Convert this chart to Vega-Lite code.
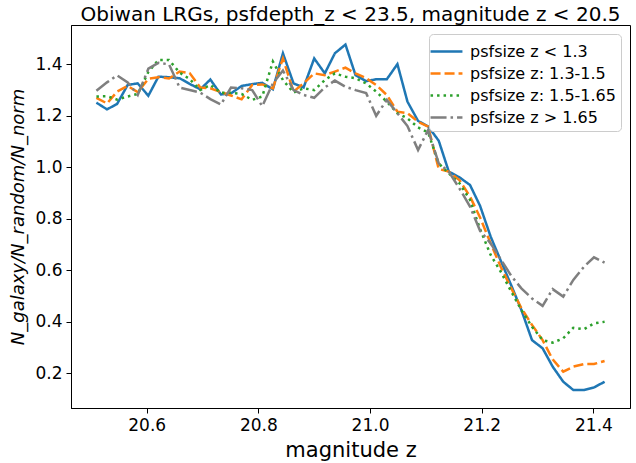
{
  "$schema": "https://vega.github.io/schema/vega-lite/v6.json",
  "width": 559,
  "height": 383,
  "autosize": {"type": "none"},
  "padding": {"left": 71, "top": 25, "right": 6, "bottom": 55},
  "background": "white",
  "config": {
    "font": "DejaVu Sans",
    "view": {"stroke": "black", "strokeWidth": 1},
    "axis": {"grid": false, "domainColor": "black", "tickColor": "black", "labelColor": "black", "titleColor": "black", "labelFontSize": 17, "titleFontSize": 21, "titleFontWeight": "normal", "tickSize": 5, "labelPadding": 4, "domainWidth": 1}
  },
  "title": {"text": "Obiwan LRGs, psfdepth_z < 23.5, magnitude z < 20.5", "fontSize": 20, "fontWeight": "normal", "anchor": "middle", "offset": 0, "color": "black"},
  "datasets": {
    "d": [
      {"m":20.510,"s":"psfsize z < 1.3","v":1.251},{"m":20.529,"s":"psfsize z < 1.3","v":1.225},{"m":20.547,"s":"psfsize z < 1.3","v":1.246},{"m":20.566,"s":"psfsize z < 1.3","v":1.320},{"m":20.584,"s":"psfsize z < 1.3","v":1.326},
      {"m":20.603,"s":"psfsize z < 1.3","v":1.278},{"m":20.621,"s":"psfsize z < 1.3","v":1.352},{"m":20.640,"s":"psfsize z < 1.3","v":1.350},{"m":20.659,"s":"psfsize z < 1.3","v":1.346},{"m":20.677,"s":"psfsize z < 1.3","v":1.324},
      {"m":20.696,"s":"psfsize z < 1.3","v":1.303},{"m":20.714,"s":"psfsize z < 1.3","v":1.341},{"m":20.733,"s":"psfsize z < 1.3","v":1.283},{"m":20.751,"s":"psfsize z < 1.3","v":1.287},{"m":20.770,"s":"psfsize z < 1.3","v":1.316},
      {"m":20.789,"s":"psfsize z < 1.3","v":1.323},{"m":20.807,"s":"psfsize z < 1.3","v":1.328},{"m":20.826,"s":"psfsize z < 1.3","v":1.303},{"m":20.844,"s":"psfsize z < 1.3","v":1.443},{"m":20.863,"s":"psfsize z < 1.3","v":1.326},
      {"m":20.881,"s":"psfsize z < 1.3","v":1.310},{"m":20.900,"s":"psfsize z < 1.3","v":1.423},{"m":20.919,"s":"psfsize z < 1.3","v":1.365},{"m":20.937,"s":"psfsize z < 1.3","v":1.443},{"m":20.956,"s":"psfsize z < 1.3","v":1.477},
      {"m":20.974,"s":"psfsize z < 1.3","v":1.358},{"m":20.993,"s":"psfsize z < 1.3","v":1.335},{"m":21.011,"s":"psfsize z < 1.3","v":1.342},{"m":21.030,"s":"psfsize z < 1.3","v":1.342},{"m":21.049,"s":"psfsize z < 1.3","v":1.401},
      {"m":21.067,"s":"psfsize z < 1.3","v":1.255},{"m":21.086,"s":"psfsize z < 1.3","v":1.180},{"m":21.104,"s":"psfsize z < 1.3","v":1.159},{"m":21.123,"s":"psfsize z < 1.3","v":1.103},{"m":21.141,"s":"psfsize z < 1.3","v":0.983},
      {"m":21.160,"s":"psfsize z < 1.3","v":0.961},{"m":21.179,"s":"psfsize z < 1.3","v":0.931},{"m":21.197,"s":"psfsize z < 1.3","v":0.850},{"m":21.216,"s":"psfsize z < 1.3","v":0.730},{"m":21.234,"s":"psfsize z < 1.3","v":0.637},
      {"m":21.253,"s":"psfsize z < 1.3","v":0.540},{"m":21.271,"s":"psfsize z < 1.3","v":0.445},{"m":21.290,"s":"psfsize z < 1.3","v":0.328},{"m":21.309,"s":"psfsize z < 1.3","v":0.296},{"m":21.327,"s":"psfsize z < 1.3","v":0.225},
      {"m":21.346,"s":"psfsize z < 1.3","v":0.166},{"m":21.364,"s":"psfsize z < 1.3","v":0.134},{"m":21.383,"s":"psfsize z < 1.3","v":0.134},{"m":21.401,"s":"psfsize z < 1.3","v":0.144},{"m":21.420,"s":"psfsize z < 1.3","v":0.166},

      {"m":20.510,"s":"psfsize z: 1.3-1.5","v":1.270},{"m":20.529,"s":"psfsize z: 1.3-1.5","v":1.248},{"m":20.547,"s":"psfsize z: 1.3-1.5","v":1.294},{"m":20.566,"s":"psfsize z: 1.3-1.5","v":1.316},{"m":20.584,"s":"psfsize z: 1.3-1.5","v":1.292},
      {"m":20.603,"s":"psfsize z: 1.3-1.5","v":1.344},{"m":20.621,"s":"psfsize z: 1.3-1.5","v":1.350},{"m":20.640,"s":"psfsize z: 1.3-1.5","v":1.345},{"m":20.659,"s":"psfsize z: 1.3-1.5","v":1.372},{"m":20.677,"s":"psfsize z: 1.3-1.5","v":1.366},
      {"m":20.696,"s":"psfsize z: 1.3-1.5","v":1.310},{"m":20.714,"s":"psfsize z: 1.3-1.5","v":1.307},{"m":20.733,"s":"psfsize z: 1.3-1.5","v":1.292},{"m":20.751,"s":"psfsize z: 1.3-1.5","v":1.279},{"m":20.770,"s":"psfsize z: 1.3-1.5","v":1.264},
      {"m":20.789,"s":"psfsize z: 1.3-1.5","v":1.320},{"m":20.807,"s":"psfsize z: 1.3-1.5","v":1.322},{"m":20.826,"s":"psfsize z: 1.3-1.5","v":1.307},{"m":20.844,"s":"psfsize z: 1.3-1.5","v":1.423},{"m":20.863,"s":"psfsize z: 1.3-1.5","v":1.294},
      {"m":20.881,"s":"psfsize z: 1.3-1.5","v":1.326},{"m":20.900,"s":"psfsize z: 1.3-1.5","v":1.365},{"m":20.919,"s":"psfsize z: 1.3-1.5","v":1.358},{"m":20.937,"s":"psfsize z: 1.3-1.5","v":1.372},{"m":20.956,"s":"psfsize z: 1.3-1.5","v":1.387},
      {"m":20.974,"s":"psfsize z: 1.3-1.5","v":1.365},{"m":20.993,"s":"psfsize z: 1.3-1.5","v":1.346},{"m":21.011,"s":"psfsize z: 1.3-1.5","v":1.320},{"m":21.030,"s":"psfsize z: 1.3-1.5","v":1.281},{"m":21.049,"s":"psfsize z: 1.3-1.5","v":1.216},
      {"m":21.067,"s":"psfsize z: 1.3-1.5","v":1.210},{"m":21.086,"s":"psfsize z: 1.3-1.5","v":1.177},{"m":21.104,"s":"psfsize z: 1.3-1.5","v":1.158},{"m":21.123,"s":"psfsize z: 1.3-1.5","v":0.993},{"m":21.141,"s":"psfsize z: 1.3-1.5","v":0.983},
      {"m":21.160,"s":"psfsize z: 1.3-1.5","v":0.950},{"m":21.179,"s":"psfsize z: 1.3-1.5","v":0.886},{"m":21.197,"s":"psfsize z: 1.3-1.5","v":0.805},{"m":21.216,"s":"psfsize z: 1.3-1.5","v":0.704},{"m":21.234,"s":"psfsize z: 1.3-1.5","v":0.613},
      {"m":21.253,"s":"psfsize z: 1.3-1.5","v":0.529},{"m":21.271,"s":"psfsize z: 1.3-1.5","v":0.452},{"m":21.290,"s":"psfsize z: 1.3-1.5","v":0.387},{"m":21.309,"s":"psfsize z: 1.3-1.5","v":0.328},{"m":21.327,"s":"psfsize z: 1.3-1.5","v":0.253},
      {"m":21.346,"s":"psfsize z: 1.3-1.5","v":0.205},{"m":21.364,"s":"psfsize z: 1.3-1.5","v":0.225},{"m":21.383,"s":"psfsize z: 1.3-1.5","v":0.235},{"m":21.401,"s":"psfsize z: 1.3-1.5","v":0.235},{"m":21.420,"s":"psfsize z: 1.3-1.5","v":0.247},

      {"m":20.510,"s":"psfsize z: 1.5-1.65","v":1.275},{"m":20.529,"s":"psfsize z: 1.5-1.65","v":1.276},{"m":20.547,"s":"psfsize z: 1.5-1.65","v":1.263},{"m":20.566,"s":"psfsize z: 1.5-1.65","v":1.275},{"m":20.584,"s":"psfsize z: 1.5-1.65","v":1.285},
      {"m":20.603,"s":"psfsize z: 1.5-1.65","v":1.370},{"m":20.621,"s":"psfsize z: 1.5-1.65","v":1.417},{"m":20.640,"s":"psfsize z: 1.5-1.65","v":1.417},{"m":20.659,"s":"psfsize z: 1.5-1.65","v":1.368},{"m":20.677,"s":"psfsize z: 1.5-1.65","v":1.343},
      {"m":20.696,"s":"psfsize z: 1.5-1.65","v":1.300},{"m":20.714,"s":"psfsize z: 1.5-1.65","v":1.320},{"m":20.733,"s":"psfsize z: 1.5-1.65","v":1.290},{"m":20.751,"s":"psfsize z: 1.5-1.65","v":1.290},{"m":20.770,"s":"psfsize z: 1.5-1.65","v":1.285},
      {"m":20.789,"s":"psfsize z: 1.5-1.65","v":1.262},{"m":20.807,"s":"psfsize z: 1.5-1.65","v":1.275},{"m":20.826,"s":"psfsize z: 1.5-1.65","v":1.411},{"m":20.844,"s":"psfsize z: 1.5-1.65","v":1.339},{"m":20.863,"s":"psfsize z: 1.5-1.65","v":1.290},
      {"m":20.881,"s":"psfsize z: 1.5-1.65","v":1.307},{"m":20.900,"s":"psfsize z: 1.5-1.65","v":1.300},{"m":20.919,"s":"psfsize z: 1.5-1.65","v":1.339},{"m":20.937,"s":"psfsize z: 1.5-1.65","v":1.365},{"m":20.956,"s":"psfsize z: 1.5-1.65","v":1.352},
      {"m":20.974,"s":"psfsize z: 1.5-1.65","v":1.346},{"m":20.993,"s":"psfsize z: 1.5-1.65","v":1.326},{"m":21.011,"s":"psfsize z: 1.5-1.65","v":1.294},{"m":21.030,"s":"psfsize z: 1.5-1.65","v":1.255},{"m":21.049,"s":"psfsize z: 1.5-1.65","v":1.210},
      {"m":21.067,"s":"psfsize z: 1.5-1.65","v":1.190},{"m":21.086,"s":"psfsize z: 1.5-1.65","v":1.155},{"m":21.104,"s":"psfsize z: 1.5-1.65","v":1.135},{"m":21.123,"s":"psfsize z: 1.5-1.65","v":1.015},{"m":21.141,"s":"psfsize z: 1.5-1.65","v":0.976},
      {"m":21.160,"s":"psfsize z: 1.5-1.65","v":0.938},{"m":21.179,"s":"psfsize z: 1.5-1.65","v":0.873},{"m":21.197,"s":"psfsize z: 1.5-1.65","v":0.760},{"m":21.216,"s":"psfsize z: 1.5-1.65","v":0.659},{"m":21.234,"s":"psfsize z: 1.5-1.65","v":0.594},
      {"m":21.253,"s":"psfsize z: 1.5-1.65","v":0.516},{"m":21.271,"s":"psfsize z: 1.5-1.65","v":0.445},{"m":21.290,"s":"psfsize z: 1.5-1.65","v":0.380},{"m":21.309,"s":"psfsize z: 1.5-1.65","v":0.328},{"m":21.327,"s":"psfsize z: 1.5-1.65","v":0.318},
      {"m":21.346,"s":"psfsize z: 1.5-1.65","v":0.335},{"m":21.364,"s":"psfsize z: 1.5-1.65","v":0.376},{"m":21.383,"s":"psfsize z: 1.5-1.65","v":0.370},{"m":21.401,"s":"psfsize z: 1.5-1.65","v":0.393},{"m":21.420,"s":"psfsize z: 1.5-1.65","v":0.399},

      {"m":20.510,"s":"psfsize z > 1.65","v":1.297},{"m":20.529,"s":"psfsize z > 1.65","v":1.330},{"m":20.547,"s":"psfsize z > 1.65","v":1.357},{"m":20.566,"s":"psfsize z > 1.65","v":1.330},{"m":20.584,"s":"psfsize z > 1.65","v":1.281},
      {"m":20.603,"s":"psfsize z > 1.65","v":1.383},{"m":20.621,"s":"psfsize z > 1.65","v":1.406},{"m":20.640,"s":"psfsize z > 1.65","v":1.400},{"m":20.659,"s":"psfsize z > 1.65","v":1.310},{"m":20.677,"s":"psfsize z > 1.65","v":1.300},
      {"m":20.696,"s":"psfsize z > 1.65","v":1.290},{"m":20.714,"s":"psfsize z > 1.65","v":1.265},{"m":20.733,"s":"psfsize z > 1.65","v":1.244},{"m":20.751,"s":"psfsize z > 1.65","v":1.310},{"m":20.770,"s":"psfsize z > 1.65","v":1.307},
      {"m":20.789,"s":"psfsize z > 1.65","v":1.300},{"m":20.807,"s":"psfsize z > 1.65","v":1.237},{"m":20.826,"s":"psfsize z > 1.65","v":1.326},{"m":20.844,"s":"psfsize z > 1.65","v":1.376},{"m":20.863,"s":"psfsize z > 1.65","v":1.300},
      {"m":20.881,"s":"psfsize z > 1.65","v":1.281},{"m":20.900,"s":"psfsize z > 1.65","v":1.270},{"m":20.919,"s":"psfsize z > 1.65","v":1.310},{"m":20.937,"s":"psfsize z > 1.65","v":1.337},{"m":20.956,"s":"psfsize z > 1.65","v":1.313},
      {"m":20.974,"s":"psfsize z > 1.65","v":1.300},{"m":20.993,"s":"psfsize z > 1.65","v":1.288},{"m":21.011,"s":"psfsize z > 1.65","v":1.200},{"m":21.030,"s":"psfsize z > 1.65","v":1.262},{"m":21.049,"s":"psfsize z > 1.65","v":1.210},
      {"m":21.067,"s":"psfsize z > 1.65","v":1.160},{"m":21.086,"s":"psfsize z > 1.65","v":1.067},{"m":21.104,"s":"psfsize z > 1.65","v":1.145},{"m":21.123,"s":"psfsize z > 1.65","v":1.015},{"m":21.141,"s":"psfsize z > 1.65","v":0.983},
      {"m":21.160,"s":"psfsize z > 1.65","v":0.918},{"m":21.179,"s":"psfsize z > 1.65","v":0.847},{"m":21.197,"s":"psfsize z > 1.65","v":0.753},{"m":21.216,"s":"psfsize z > 1.65","v":0.704},{"m":21.234,"s":"psfsize z > 1.65","v":0.642},
      {"m":21.253,"s":"psfsize z > 1.65","v":0.577},{"m":21.271,"s":"psfsize z > 1.65","v":0.529},{"m":21.290,"s":"psfsize z > 1.65","v":0.490},{"m":21.309,"s":"psfsize z > 1.65","v":0.461},{"m":21.327,"s":"psfsize z > 1.65","v":0.526},
      {"m":21.346,"s":"psfsize z > 1.65","v":0.497},{"m":21.364,"s":"psfsize z > 1.65","v":0.562},{"m":21.383,"s":"psfsize z > 1.65","v":0.613},{"m":21.401,"s":"psfsize z > 1.65","v":0.650},{"m":21.420,"s":"psfsize z > 1.65","v":0.629}
    ]
  },
  "data": {"name": "d"},
  "mark": {"type": "line", "strokeWidth": 2.5, "clip": true},
  "encoding": {
    "x": {"field": "m", "type": "quantitative", "title": "magnitude z",
      "scale": {"domain": [20.4645, 21.4655], "nice": false, "zero": false},
      "axis": {"values": [20.6, 20.8, 21.0, 21.2, 21.4], "format": ".1f", "titlePadding": 6}},
    "y": {"field": "v", "type": "quantitative", "title": "N_galaxy/N_random/N_norm",
      "scale": {"domain": [0.064, 1.553], "nice": false, "zero": false},
      "axis": {"values": [0.2, 0.4, 0.6, 0.8, 1.0, 1.2, 1.4], "format": ".1f", "titlePadding": 7, "titleFontStyle": "italic", "titleFontSize": 18}},
    "color": {"field": "s", "type": "nominal",
      "scale": {"domain": ["psfsize z < 1.3", "psfsize z: 1.3-1.5", "psfsize z: 1.5-1.65", "psfsize z > 1.65"], "range": ["#1f77b4", "#ff7f0e", "#2ca02c", "#7f7f7f"]},
      "legend": {"title": null, "orient": "top-right", "offset": 9, "labelFontSize": 16, "labelColor": "black", "symbolType": "M-1.45,0H1.45", "symbolSize": 484, "symbolStrokeWidth": 2.5, "fillColor": "white", "strokeColor": "#cccccc", "padding": 5, "rowPadding": 1, "cornerRadius": 4, "labelLimit": 300, "labelOffset": 11}},
    "strokeDash": {"field": "s", "type": "nominal",
      "scale": {"domain": ["psfsize z < 1.3", "psfsize z: 1.3-1.5", "psfsize z: 1.5-1.65", "psfsize z > 1.65"], "range": [[1, 0], [10, 4], [2.5, 4], [16, 4, 2.5, 4]]},
      "legend": null}
  }
}
